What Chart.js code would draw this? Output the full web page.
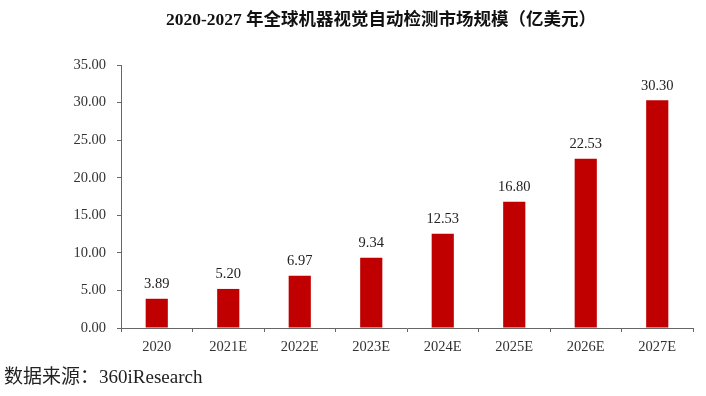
<!DOCTYPE html>
<html>
<head>
<meta charset="utf-8">
<script src="https://cdn.jsdelivr.net/npm/chart.js@4.4.0/dist/chart.umd.min.js"></script>
<style>
  html, body { margin: 0; padding: 0; background: #fff; }
  #wrap { position: relative; width: 706px; height: 396px; }
</style>
</head>
<body>
<div id="wrap"><canvas id="graficoMercado" width="706" height="396"></canvas></div>
<script>
const categorias = ['2020', '2021E', '2022E', '2023E', '2024E', '2025E', '2026E', '2027E'];
const valores = [3.89, 5.20, 6.97, 9.34, 12.53, 16.80, 22.53, 30.30];
const titulo = '2020-2027 年全球机器视觉自动检测市场规模（亿美元）';
const fuente = '数据来源：360iResearch';

const serif = '"Liberation Serif", "Times New Roman", "Noto Sans CJK SC", serif';

// etiquetas encima de cada barra, titulo y fuente
const textosPlugin = {
    id: 'textos',
    afterDatasetsDraw(chart) {
        const ctx = chart.ctx;
        ctx.save();
        ctx.fillStyle = '#222';
        ctx.font = '14.5px ' + serif;
        ctx.textAlign = 'center';
        ctx.textBaseline = 'bottom';
        chart.getDatasetMeta(0).data.forEach((bar, i) => {
            ctx.fillText(valores[i].toFixed(2), bar.x, bar.y - 7);
        });

        ctx.font = 'bold 17.5px ' + serif;
        ctx.textBaseline = 'middle';
        ctx.fillStyle = '#111';
        ctx.fillText(titulo, 381, 20);

        ctx.font = '19px ' + serif;
        ctx.textAlign = 'left';
        ctx.fillStyle = '#222';
        ctx.fillText(fuente, 4, 378);
        ctx.restore();
    }
};

const ctx = document.getElementById('graficoMercado').getContext('2d');
new Chart(ctx, {
    type: 'bar',
    data: {
        labels: categorias,
        datasets: [{
            label: '市场规模',
            data: valores,
            backgroundColor: '#C00000',
            borderWidth: 0,
            barPercentage: 0.31,
            categoryPercentage: 1
        }]
    },
    options: {
        responsive: false,
        animation: false,
        layout: { padding: { left: 71, right: 13, top: 65, bottom: 38 } },
        plugins: {
            legend: { display: false },
            tooltip: { enabled: false }
        },
        scales: {
            y: {
                min: 0,
                max: 35,
                ticks: {
                    stepSize: 5,
                    color: '#333',
                    font: { family: serif, size: 14.5 },
                    padding: 11,
                    callback: v => v.toFixed(2)
                },
                grid: { drawOnChartArea: false, drawTicks: true, tickLength: 4, color: '#666' },
                border: { display: true, color: '#666', width: 1 },
                afterFit: s => { s.width = 50; }
            },
            x: {
                ticks: {
                    color: '#333',
                    font: { family: serif, size: 14.5 },
                    padding: 6
                },
                grid: { drawOnChartArea: false, drawTicks: true, tickLength: 4, color: '#666', offset: true },
                border: { display: true, color: '#666', width: 1 },
                afterFit: s => { s.height = 30; }
            }
        }
    },
    plugins: [textosPlugin]
});
</script>
</body>
</html>
